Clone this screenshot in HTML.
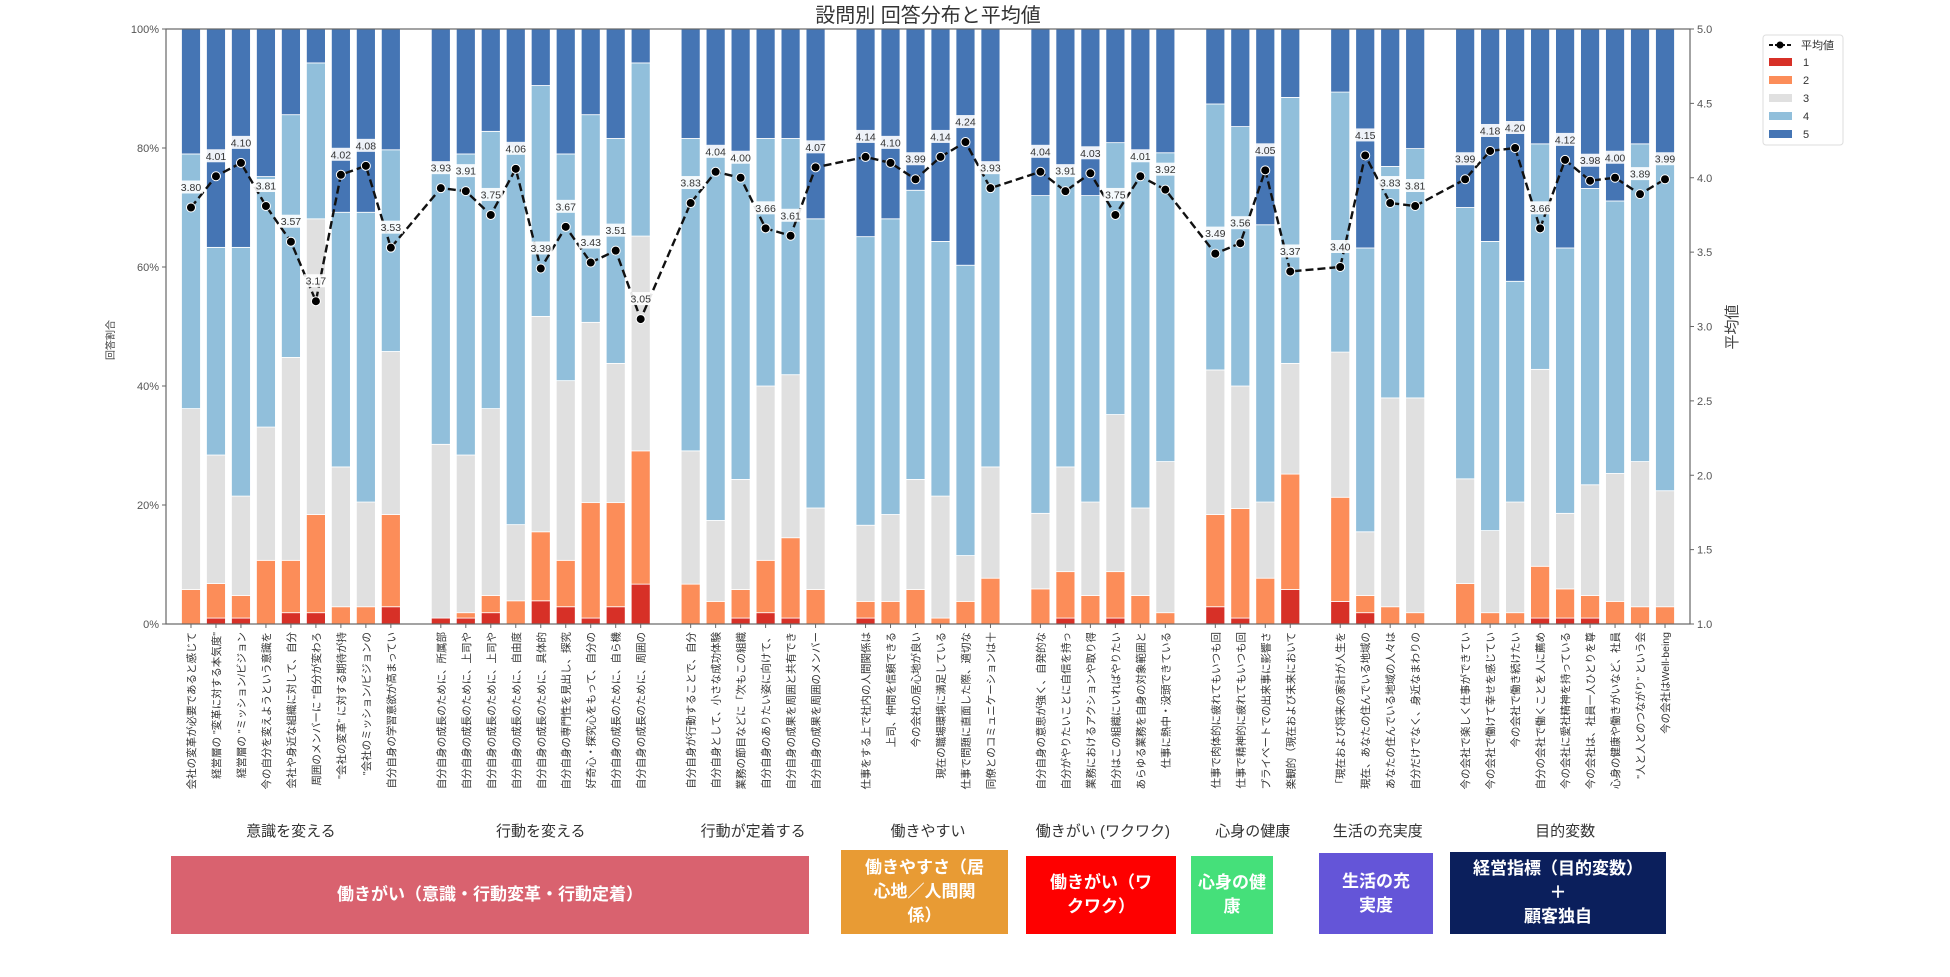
<!DOCTYPE html>
<html><head><meta charset="utf-8">
<style>
html,body{margin:0;padding:0;background:#fff;}
body{width:1950px;height:977px;overflow:hidden;position:relative;font-family:"Liberation Sans","Noto Sans CJK JP",sans-serif;}
.box{position:absolute;color:#fff;font-weight:bold;font-size:17px;display:flex;align-items:center;justify-content:center;text-align:center;line-height:24px;}
</style></head>
<body>
<svg id="chart" width="1950" height="977" style="position:absolute;left:0;top:0" font-family="Liberation Sans, Noto Sans CJK JP, sans-serif"></svg>

<div class="box" style="left:171px;top:856px;width:638px;height:78px;background:#d9626f;">働きがい（意識・行動変革・行動定着）</div>
<div class="box" style="left:841px;top:850px;width:167px;height:84px;background:#e89b34;">働きやすさ（居<br>心地／人間関<br>係）</div>
<div class="box" style="left:1026px;top:856px;width:150px;height:78px;background:#fe0000;">働きがい（ワ<br>クワク）</div>
<div class="box" style="left:1191px;top:856px;width:82px;height:78px;background:#45e07a;">心身の健<br>康</div>
<div class="box" style="left:1319px;top:853px;width:114px;height:81px;background:#6455d8;">生活の充<br>実度</div>
<div class="box" style="left:1450px;top:852px;width:216px;height:82px;background:#0b1f5c;">経営指標（目的変数）<br>＋<br>顧客独自</div>

<script>
const categories = ["会社の変革が必要であると感じて","経営層の \"変革に対する本気度\"","経営層の \"ミッション/ビジョン","今の自分を変えようという意識を","会社や身近な組織に対して、自分","周囲のメンバーに \"自分が変わろ","\"会社の変革\" に対する期待が持","\"会社のミッション/ビジョンの","自分自身の学習意欲が高まってい",
"自分自身の成長のために、所属部","自分自身の成長のために、上司や","自分自身の成長のために、上司や","自分自身の成長のために、自由度","自分自身の成長のために、具体的","自分自身の専門性を見出し、探究","好奇心・探究心をもって、自分の","自分自身の成長のために、自ら機","自分自身の成長のために、周囲の",
"自分自身が行動することで、自分","自分自身として、小さな成功体験","業務の節目などに「次もこの組織","自分自身のありたい姿に向けて、","自分自身の成果を周囲と共有でき","自分自身の成果を周囲のメンバー",
"仕事をする上で社内の人間関係は","上司、仲間を信頼できる","今の会社の居心地が良い","現在の職場環境に満足している","仕事で問題に直面した際、適切な","同僚とのコミュニケーションは十",
"自分自身の意思が強く、自発的な","自分がやりたいことに自信を持っ","業務におけるアクションや取り得","自分はこの組織にいればやりたい","あらゆる業務を自身の対象範囲と","仕事に熱中・没頭できている",
"仕事で肉体的に疲れてもいつも回","仕事で精神的に疲れてもいつも回","プライベートでの出来事に影響さ","楽観的（現在および未来において",
"「現在および将来の家計が人生を","現在、あなたの住んでいる地域の","あなたの住んでいる地域の人々は","自分だけでなく、身近なまわりの",
"今の会社で楽しく仕事ができてい","今の会社で働けて幸せを感じてい","今の会社で働き続けたい","自分の会社で働くことを人に薦め","今の会社に愛社精神を持っている","今の会社は、社員一人ひとりを尊","心身の健康や働きがいなど、社員","\"人と人とのつながり\" という会","今の会社はWell-being"];
const groupNames = ["意識を変える","行動を変える","行動が定着する","働きやすい","働きがい (ワクワク)","心身の健康","生活の充実度","目的変数"];
const groupSizes = [9,9,6,6,6,4,4,9];
const pct1 = [0,1,1,0,1.9,1.9,0,0,2.9, 1,1,1.9,0,3.9,2.9,1,2.9,6.7, 0,0,1,1.9,1,0, 1,0,0,0,0,0, 0,1,0,1,0,0, 2.9,1,0,5.8, 3.8,1.9,0,0, 0,0,0,1,1,1,0,0,0];
const pct2 = [5.8,5.8,3.8,10.7,8.8,16.5,2.9,2.9,15.5, 0,0.9,2.9,3.9,11.6,7.8,19.4,17.5,22.4, 6.7,3.8,4.8,8.8,13.5,5.8, 2.8,3.8,5.8,1,3.8,7.7, 5.9,7.8,4.8,7.8,4.8,1.9, 15.5,18.4,7.7,19.4, 17.5,2.9,2.9,1.9, 6.8,1.9,1.9,8.7,4.9,3.8,3.8,2.9,2.9];
const pct3 = [30.4,21.6,16.7,22.4,34.1,49.7,23.5,17.6,27.4, 29.2,26.5,31.4,12.8,36.2,30.2,30.3,23.4,36.1, 22.4,13.6,18.5,29.3,27.4,13.7, 12.8,14.6,18.5,20.5,7.7,18.7, 12.7,17.6,15.7,26.4,14.7,25.4, 24.3,20.6,12.8,18.6, 24.4,10.7,35.1,36.1, 17.6,13.8,18.6,33.1,12.7,18.6,21.5,24.4,19.5];
const pct4 = [42.8,34.9,41.8,42.1,40.8,26.2,42.8,48.7,33.9, 46.7,50.6,46.6,63.3,38.8,38.1,34.9,37.8,29.1, 52.5,62.1,54.5,41.6,39.7,48.6, 48.5,49.7,48.6,42.8,48.8,50.7, 53.4,50.2,51.5,45.7,59.5,51.9, 44.7,43.6,46.6,44.7, 43.7,47.7,38.9,41.9, 45.6,48.6,37.1,37.9,44.6,49.8,45.8,53.4,55.4];
const pct5 = [21.0,36.7,36.7,24.8,14.4,5.7,30.8,30.8,20.3, 23.1,21.0,17.2,20.0,9.5,21.0,14.4,18.4,5.7, 18.4,20.5,21.2,18.4,18.4,31.9, 34.9,31.9,27.1,35.7,39.7,22.9, 28.0,23.4,28.0,19.1,21.0,20.8, 12.6,16.4,32.9,11.5, 10.6,36.8,23.1,20.1, 30.0,35.7,42.4,19.3,36.8,26.8,28.9,19.3,22.2];
const means = [3.80,4.01,4.10,3.81,3.57,3.17,4.02,4.08,3.53, 3.93,3.91,3.75,4.06,3.39,3.67,3.43,3.51,3.05, 3.83,4.04,4.00,3.66,3.61,4.07, 4.14,4.10,3.99,4.14,4.24,3.93, 4.04,3.91,4.03,3.75,4.01,3.92, 3.49,3.56,4.05,3.37, 3.40,4.15,3.83,3.81, 3.99,4.18,4.20,3.66,4.12,3.98,4.00,3.89,3.99];
const pctTicks = [0,20,40,60,80,100];
const meanTicks = [1.0,1.5,2.0,2.5,3.0,3.5,4.0,4.5,5.0];
const colors = ["#d73027","#fc8d59","#e0e0e0","#91bfdb","#4575b4"];

const NS="http://www.w3.org/2000/svg";
const svg=document.getElementById('chart');
const L=166,R=1690,T=29,B=624;
function mk(tag,attrs,parent){const e=document.createElementNS(NS,tag);for(const k in attrs)e.setAttribute(k,attrs[k]);(parent||svg).appendChild(e);return e;}
const slots=[];let s=0;groupSizes.forEach((n,gi)=>{for(let i=0;i<n;i++)slots.push(s++);s++;});
const nSlots=s-1;
const slotW=(R-L)/(nSlots+1);
const xS=i=>L+slotW*(slots[i]+1);
const yP=p=>B-(B-T)*p/100;
const yM=m=>B-(B-T)*(m-1)/4;

let t=mk('text',{x:928,y:22,'text-anchor':'middle','font-size':20,fill:'#333'});t.textContent='設問別 回答分布と平均値';



const series=[pct1,pct2,pct3,pct4,pct5];
const bw=slotW*0.76;
for(let i=0;i<categories.length;i++){
  let cum=0;
  for(let k=0;k<5;k++){
    const v=series[k][i];
    const r=mk('rect',{x:xS(i)-bw/2,y:yP(cum+v),width:bw,height:Math.max(0,yP(cum)-yP(cum+v)),fill:colors[k],stroke:'#fff','stroke-width':0.8});
    
    
    cum+=v;
  }
}
const fr=mk('rect',{x:L,y:T,width:R-L,height:B-T,fill:'none',stroke:'#666','stroke-width':1.2});


pctTicks.forEach(p=>{
  mk('line',{x1:L-4,x2:L,y1:yP(p),y2:yP(p),stroke:'#666'});
  const tx=mk('text',{x:L-7,y:yP(p)+4,'text-anchor':'end','font-size':11,fill:'#555'});tx.textContent=p+'%';
  
  
});
const yl=mk('text',{x:0,y:0,'text-anchor':'middle','font-size':10,fill:'#444',transform:'translate(114,340) rotate(-90)'});yl.textContent='回答割合';


meanTicks.forEach(m=>{
  mk('line',{x1:R,x2:R+4,y1:yM(m),y2:yM(m),stroke:'#666'});
  const tx=mk('text',{x:R+7,y:yM(m)+4,'font-size':11,fill:'#555'});tx.textContent=m.toFixed(1);
  
  
});
const yr=mk('text',{x:0,y:0,'text-anchor':'middle','font-size':15,fill:'#444',transform:'translate(1737,327) rotate(-90)'});yr.textContent='平均値';



const pts=means.map((m,i)=>xS(i)+','+yM(m)).join(' ');
const pl=mk('polyline',{points:pts,fill:'none',stroke:'#111','stroke-width':2.4,'stroke-dasharray':'8,4'});


means.forEach((m,i)=>{
  const c=mk('circle',{cx:xS(i),cy:yM(m),r:4.5,fill:'#000',stroke:'#fff','stroke-width':1});
  
  
  const bg=mk('rect',{x:xS(i)-12,y:yM(m)-27,width:24,height:13,fill:'#fff',opacity:0.9});
  
  
  const lt=mk('text',{x:xS(i),y:yM(m)-16.5,'text-anchor':'middle','font-size':10.5,fill:'#333'});lt.textContent=m.toFixed(2);
  
  
});
categories.forEach((c,i)=>{
  mk('line',{x1:xS(i),x2:xS(i),y1:B,y2:B+4,stroke:'#666'});
  const tx=mk('text',{x:0,y:0,'text-anchor':'end','font-size':10.5,fill:'#333',transform:'translate('+(xS(i)+4)+','+(B+8)+') rotate(-90)'});tx.textContent=c;
  
  
});
let idx=0;
groupNames.forEach((g,gi)=>{
  const a=xS(idx),b=xS(idx+groupSizes[gi]-1);idx+=groupSizes[gi];
  const tx=mk('text',{x:(a+b)/2,y:836,'text-anchor':'middle','font-size':15,fill:'#333'});tx.textContent=g;
  
  
});
const lg=mk('g',{});


mk('rect',{x:1763,y:35,width:80,height:110,rx:3,fill:'#fff',stroke:'#ddd'},lg);
mk('line',{x1:1769,x2:1792,y1:45,y2:45,stroke:'#111','stroke-width':2,'stroke-dasharray':'4,2'},lg);
mk('circle',{cx:1780,cy:45,r:3.5,fill:'#000'},lg);
let lt0=mk('text',{x:1801,y:49,'font-size':11,fill:'#333'},lg);lt0.textContent='平均値';


['1','2','3','4','5'].forEach((n,k)=>{
  const y=62+k*18;
  mk('rect',{x:1769,y:y-4,width:23,height:8,fill:colors[k]},lg);
  const tx=mk('text',{x:1803,y:y+4,'font-size':11,fill:'#333'},lg);tx.textContent=n;
  
  
});
</script>
</body></html>
